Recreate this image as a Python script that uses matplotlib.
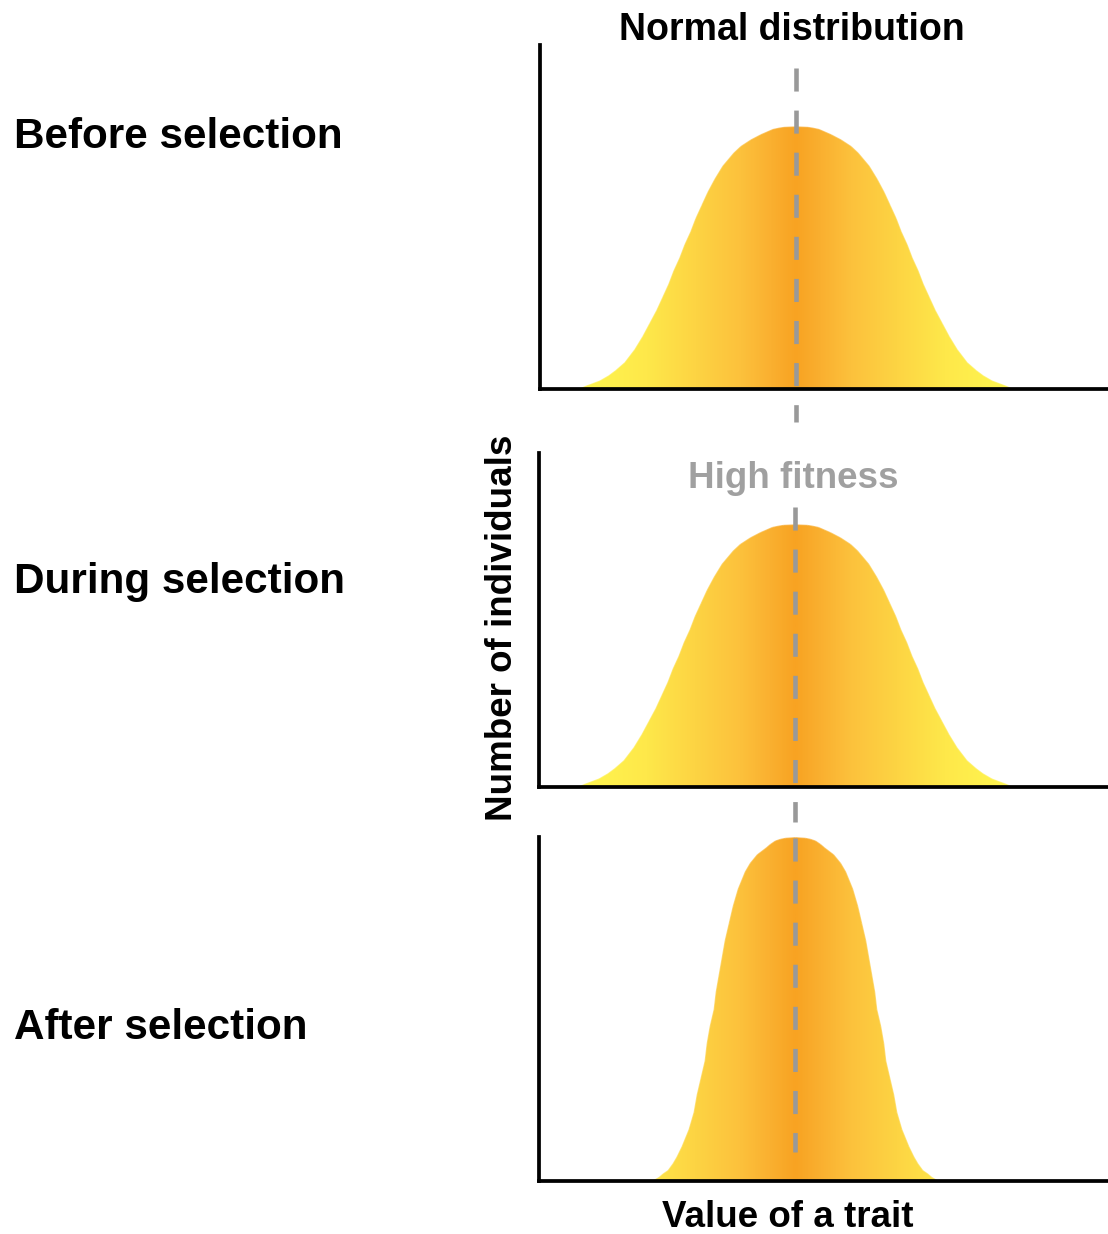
import numpy as np
import matplotlib.pyplot as plt
from matplotlib.colors import LinearSegmentedColormap
from matplotlib.collections import LineCollection

plt.rcParams['font.family'] = ['Liberation Sans', 'DejaVu Sans']
plt.rcParams['lines.scale_dashes'] = False

# stage labels, left column
stages = ['Before selection', 'During selection', 'After selection']

# bell profiles: height (% of peak) -> half width (trait units)
bell_height = [100, 99.8, 99.5, 99, 98, 97, 95, 92.5, 90, 85, 80, 75, 70, 65, 60, 55,
               50, 45, 40, 35, 30, 25, 20, 15, 10, 7, 5, 3, 2, 1, 0]
wide_half = [0.0, 0.12, 0.17, 0.23, 0.29, 0.35, 0.45, 0.55, 0.62, 0.73, 0.81, 0.88,
             0.94, 1.00, 1.05, 1.11, 1.16, 1.22, 1.27, 1.33, 1.39, 1.46, 1.53, 1.61,
             1.71, 1.80, 1.87, 1.96, 2.03, 2.10, 2.16]
narrow_half = [0.0, 0.10, 0.15, 0.20, 0.25, 0.29, 0.38, 0.45, 0.50, 0.57, 0.62, 0.66,
               0.70, 0.73, 0.76, 0.79, 0.81, 0.85, 0.88, 0.90, 0.94, 0.98, 1.01, 1.06,
               1.13, 1.18, 1.22, 1.27, 1.32, 1.36, 1.42]

# peak number of individuals per stage
peaks = [100, 100, 131]
halves = [wide_half, wide_half, narrow_half]

W, H = 1108, 1234
fig = plt.figure(figsize=(W / 100, H / 100), dpi=100)

# panel boxes in pixels: left, top, bottom
boxes = [(540, 45, 389), (539, 453, 787), (539, 837, 1181)]
# dashed guide: top/bottom in data units of each panel
guides = [(122.5, -12.6), (106.9, -13.4), (130.9, 11.1)]
label_base = [148, 593, 1039]

cmap = LinearSegmentedColormap.from_list(
    'bell', [(0.0, '#F8A322'), (0.12, '#FAB030'), (0.26, '#FCC13C'),
             (0.48, '#FDD443'), (0.71, '#FEE84A'), (1.0, '#FFF54F')])

xlim = (-2.56, 3.12)
gx = np.linspace(xlim[0], xlim[1], 800)

for i, (left, top, bottom) in enumerate(boxes):
    ax = fig.add_axes([left / W, (H - bottom) / H, (W - left) / W, (bottom - top) / H])
    ymax = (bottom - top) / 2.62
    hgt = np.array(bell_height, float) / 100 * peaks[i]
    half = np.array(halves[i])
    xs = np.concatenate([-half[::-1], half[1:]])
    ys = np.concatenate([hgt[::-1], hgt[1:]])
    poly = ax.fill(xs, ys, facecolor='none', edgecolor='none')[0]
    im = ax.imshow(np.abs(gx)[None, :], extent=[xlim[0], xlim[1], 0, ymax],
                   aspect='auto', cmap=cmap, vmin=0, vmax=2.1, origin='lower')
    im.set_clip_path(poly)
    # soft outline to smooth the clipped edge
    pts = np.column_stack([xs, ys])
    segs = np.stack([pts[:-1], pts[1:]], axis=1)
    mids = np.abs((pts[:-1, 0] + pts[1:, 0]) / 2) / 2.1
    ax.add_collection(LineCollection(segs, colors=cmap(mids), linewidths=1.0,
                                     alpha=0.7, zorder=2))
    ax.plot([0, 0], list(guides[i]), color='#999999', lw=3.3,
            linestyle=(0, (16.6, 13.7)), clip_on=False, zorder=3)
    ax.set_xlim(xlim)
    ax.set_ylim(0, ymax)
    ax.set_xticks([])
    ax.set_yticks([])
    for s in ['top', 'right']:
        ax.spines[s].set_visible(False)
    for s in ['left', 'bottom']:
        ax.spines[s].set_linewidth(2.7)
        ax.spines[s].set_color('black')
        ax.spines[s].set_zorder(4)
    fig.text(14 / W, 1 - label_base[i] / H, stages[i], fontsize=30.4,
             fontweight='bold', ha='left', va='baseline')

fig.text(792 / W, 1 - 40 / H, 'Normal distribution', fontsize=27,
         fontweight='bold', ha='center', va='baseline')
fig.text(793 / W, 1 - 488 / H, 'High fitness', fontsize=26.5, color='#A0A0A0',
         fontweight='bold', ha='center', va='baseline')
fig.text(788 / W, 1 - 1227 / H, 'Value of a trait', fontsize=26.5,
         fontweight='bold', ha='center', va='baseline')
fig.text(512 / W, 1 - 628 / H, 'Number of individuals', fontsize=26.5,
         fontweight='bold', rotation=90, rotation_mode='anchor',
         ha='center', va='baseline')

fig.savefig('out.png', dpi=100)
